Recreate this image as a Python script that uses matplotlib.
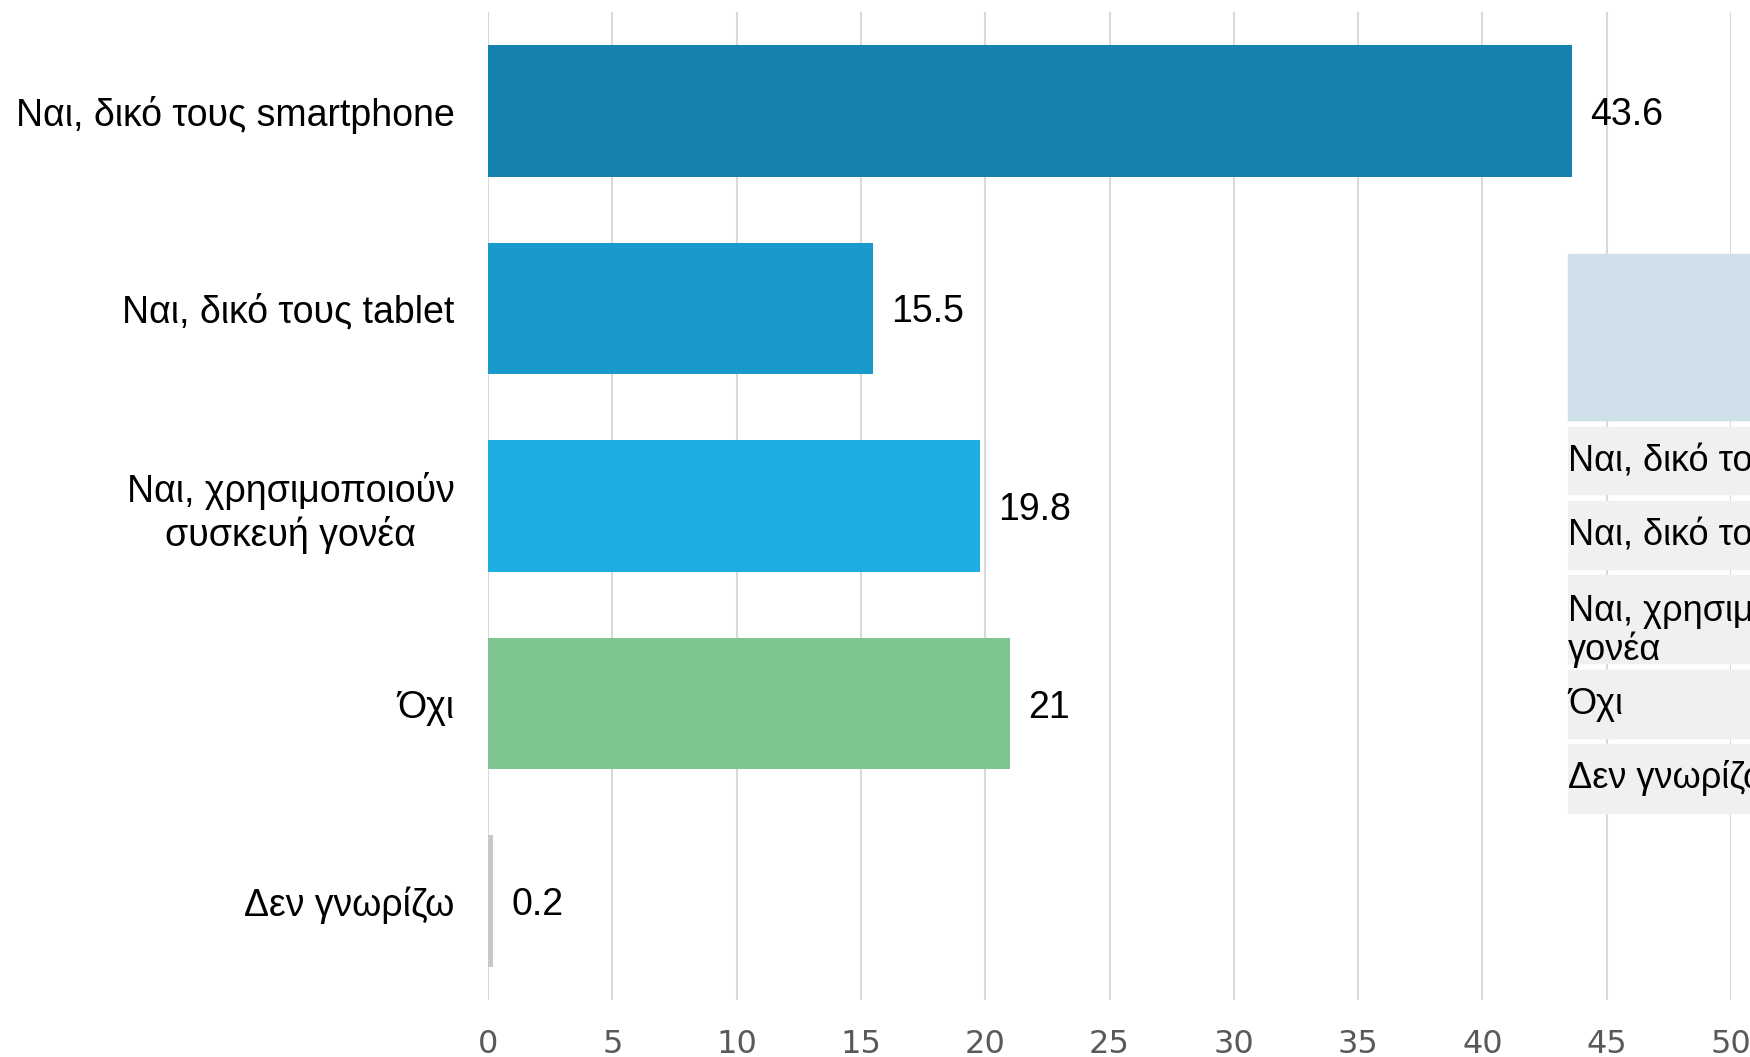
import matplotlib
matplotlib.use("Agg")
import matplotlib.pyplot as plt
from matplotlib.patches import Rectangle

categories = ["Ναι, δικό τους smartphone", "Ναι, δικό τους tablet",
              "Ναι, χρησιμοποιούν\nσυσκευή γονέα", "Όχι", "Δεν γνωρίζω"]
values = [43.6, 15.5, 19.8, 21, 0.2]
value_labels = ["43.6", "15.5", "19.8", "21", "0.2"]
colors = ["#1581AE", "#1A9ACB", "#1EADE2", "#7EC592", "#C8C8C8"]
xticks = [0, 5, 10, 15, 20, 25, 30, 35, 40, 45, 50]
table_rows = ["Ναι, δικό τους smartphone", "Ναι, δικό τους tablet",
              "Ναι, χρησιμοποιούν συσκευή\nγονέα", "Όχι", "Δεν γνωρίζω"]

W, H = 1750, 1057
fig = plt.figure(figsize=(W / 100, H / 100), dpi=100)
ax = fig.add_axes([488 / W, 1 - 1000 / H, (1731 - 488) / W, (1000 - 12) / H])

ypos = list(range(len(categories)))
ax.barh(ypos, values, height=0.667, color=colors, zorder=2)
ax.set_ylim(len(categories) - 0.5, -0.5)
ax.set_xlim(0, 50)
ax.set_xticks(xticks)
ax.set_xticklabels([str(t) for t in xticks], fontfamily="Liberation Sans Narrow",
                   fontsize=23, color="#595959")
ax.set_yticks(ypos)
ax.set_yticklabels(categories, fontfamily="Liberation Sans", fontsize=27,
                   color="black", multialignment="center")
ax.tick_params(axis="both", length=0)
ax.tick_params(axis="y", pad=24)
ax.tick_params(axis="x", pad=21)
for s in ax.spines.values():
    s.set_visible(False)
ax.grid(axis="x", color="#D9D9D9", linewidth=1.5, zorder=0)
ax.set_axisbelow(True)

for y, v, lab in zip(ypos, values, value_labels):
    ax.annotate(lab, (v, y), xytext=(13, 0), textcoords="offset points",
                va="center_baseline", ha="left", fontsize=27,
                fontfamily="Liberation Sans", color="black", zorder=3)

# overlaid table fragment at right edge
def fy(px):
    return 1 - px / H

x0 = 1568 / W
fig.patches.append(Rectangle((x0, fy(420)), 1 - x0, (420 - 254) / H,
                             transform=fig.transFigure, color="#CFE0EA", zorder=5))
row_bounds = [(427, 494), (501, 569), (575, 663), (670, 738), (744, 813)]
for (t, b), txt in zip(row_bounds, table_rows):
    fig.patches.append(Rectangle((x0, fy(b)), 1 - x0, (b - t) / H,
                                 transform=fig.transFigure, color="#F0F0F0", zorder=5))
    nl = txt.count("\n")
    fig.text(x0, fy((t + b) / 2 + 11 * nl), txt, ha="left", va="center", fontsize=26,
             fontfamily="Liberation Sans", color="black", zorder=6, linespacing=1.08)

fig.savefig("out.png", dpi=100, facecolor="white")
